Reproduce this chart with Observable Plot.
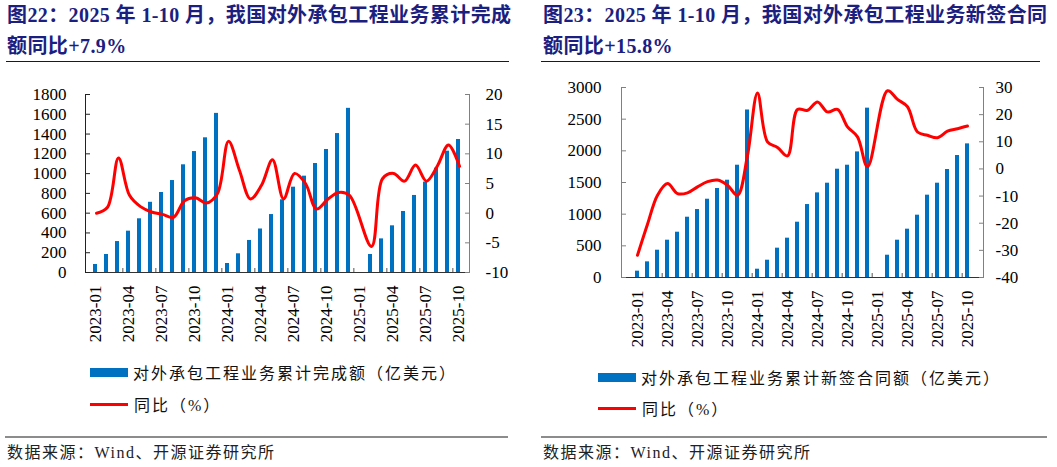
<!DOCTYPE html>
<html>
<head>
<meta charset="utf-8">
<script src="https://cdn.jsdelivr.net/npm/d3@7"></script>
<script src="https://cdn.jsdelivr.net/npm/@observablehq/plot@0.6"></script>
<style>
  body { margin: 0; background: #fff; }
  #page { position: relative; width: 1057px; height: 467px; overflow: hidden; background: #fff;
          font-family: "Liberation Serif", "Noto Sans CJK SC", serif; }
  .title { position: absolute; font-weight: bold; color: #1b2080; font-size: 20px; line-height: 31px; letter-spacing: 0.4px; white-space: nowrap; }
  .rule-top { position: absolute; height: 0; border-top: 1.5px solid #1a1a1a; }
  .rule-bottom { position: absolute; height: 0; border-top: 2px solid #8c8c8c; }
  .source { position: absolute; font-size: 16px; line-height: 20px; letter-spacing: 1.5px; color: #222; white-space: nowrap; }
  .legend { position: absolute; display: flex; align-items: center; height: 20px; font-size: 16px; letter-spacing: 2px; color: #111; white-space: nowrap; }
  .swatch-bar { width: 38px; height: 9px; background: #0070c0; margin-right: 5px; }
  .swatch-line { width: 38px; height: 3px; background: #ff0000; margin-right: 6px; }
  .plot { position: absolute; }
</style>
</head>
<body>
<div id="page"></div>
<script>
// Months 2023-01 … 2025-10 (January 2025 is not published separately)
const months = [
  "2023-01","2023-02","2023-03","2023-04","2023-05","2023-06","2023-07","2023-08","2023-09","2023-10","2023-11","2023-12",
  "2024-01","2024-02","2024-03","2024-04","2024-05","2024-06","2024-07","2024-08","2024-09","2024-10","2024-11","2024-12",
  "2025-01","2025-02","2025-03","2025-04","2025-05","2025-06","2025-07","2025-08","2025-09","2025-10"
];
const labelMonths = months.filter((m, i) => i % 3 === 0);

// 对外承包工程业务累计完成额（亿美元）and 同比（%）
const completedValue = [
  81, 182, 313, 418, 543, 710, 809, 930, 1089, 1223, 1362, 1609,
  91, 189, 324, 440, 586, 735, 863, 974, 1102, 1244, 1405, 1660,
  null, 182, 340, 472, 617, 779, 914, 1055, 1227, 1345
];
const completedYoy = [
  0.0, 1.0, 9.3, 3.0, 1.1, 0.2, -0.2, -0.7, 2.1, 2.6, 1.7, 3.3,
  12.1, 7.2, 2.4, 4.7, 9.0, 2.4, 6.7, 5.0, 0.7, 2.3, 3.5, 3.0,
  null, -5.6, 5.8, 6.7, 5.4, 8.1, 5.4, 8.0, 11.5, 7.9
];

// 对外承包工程业务累计新签合同额（亿美元）and 同比（%）
const signedValue = [
  100, 247, 431, 589, 715, 952, 1073, 1236, 1405, 1536, 1773, 2645,
  131, 273, 463, 621, 873, 1152, 1336, 1489, 1710, 1773, 1983, 2674,
  null, 352, 589, 763, 984, 1300, 1489, 1705, 1926, 2110
];
const signedYoy = [
  -31.8, -20.4, -9.7, -5.4, -9.1, -8.8, -6.6, -4.7, -4.1, -6.0, -9.7, 5.0,
  28.0, 10.0, 7.9, 4.8, 21.9, 21.6, 24.7, 21.0, 21.9, 15.5, 11.8, 0.8,
  null, 28.8, 25.6, 22.9, 13.6, 12.4, 11.5, 13.9, 14.8, 15.8
];

// Axis tick values
const completedTicks = [0, 200, 400, 600, 800, 1000, 1200, 1400, 1600, 1800];
const completedYoyTicks = [-10, -5, 0, 5, 10, 15, 20];
const signedTicks = [0, 500, 1000, 1500, 2000, 2500, 3000];
const signedYoyTicks = [-40, -30, -20, -10, 0, 10, 20, 30];

// Texts
const titles = [
  ["图22：2025 年 1-10 月，我国对外承包工程业务累计完成", "额同比+7.9%"],
  ["图23：2025 年 1-10 月，我国对外承包工程业务新签合同", "额同比+15.8%"]
];
const barNames = ["对外承包工程业务累计完成额（亿美元）", "对外承包工程业务累计新签合同额（亿美元）"];
const lineName = "同比（%）";
const sourceText = "数据来源：Wind、开源证券研究所";

const page = document.getElementById("page");
const fmt = d => String(d);

function el(cls, css, html) {
  const e = document.createElement("div");
  e.className = cls;
  Object.assign(e.style, css);
  if (html != null) e.innerHTML = html;
  page.appendChild(e);
  return e;
}

function panel(p) {
  const step = (p.width - p.marginLeft - p.marginRight) / months.length;
  const common = {
    width: p.width, height: p.height,
    marginLeft: p.marginLeft, marginRight: p.marginRight, marginTop: p.marginTop, marginBottom: p.marginBottom,
    style: {fontFamily: "Liberation Serif, serif", fontSize: "17px", color: "#000", background: "transparent", overflow: "visible"}
  };

  const bars = months.map((m, i) => ({month: m, value: p.values[i]})).filter(d => d.value != null);
  const line = months.map((m, i) => ({month: m, yoy: p.yoy[i]})).filter(d => d.yoy != null);

  // Bars with the left axis and the category axis
  const barSvg = Plot.plot({
    ...common,
    x: {type: "band", domain: months, paddingInner: 0.6, paddingOuter: 0.3},
    y: {domain: [p.yTicks[0], p.yTicks[p.yTicks.length - 1]]},
    marks: [
      Plot.barY(bars, {x: "month", y: "value", fill: "#0070c0"}),
      Plot.frame({anchor: "left", stroke: p.leftAxisColor}),
      Plot.frame({anchor: "bottom", stroke: "#333"}),
      Plot.axisY({ticks: p.yTicks, tickSize: 5, dx: 5, tickFormat: () => "", stroke: p.leftAxisColor, label: null}),
      Plot.axisY({ticks: p.yTicks, tickSize: 0, tickPadding: p.yPad, tickFormat: fmt, label: null}),
      Plot.axisX({ticks: labelMonths, tickSize: 0, tickRotate: -90, tickPadding: 13, label: null}),
      Plot.axisX({ticks: labelMonths.slice(1), tickSize: 4, dy: -4, dx: -step / 2, tickFormat: () => "", stroke: "#555", label: null})
    ]
  });

  // Year-on-year line with the right axis
  const lineSvg = Plot.plot({
    ...common,
    x: {type: "point", domain: months, padding: 0.5, axis: null},
    y: {domain: [p.y2Ticks[0], p.y2Ticks[p.y2Ticks.length - 1]]},
    marks: [
      Plot.frame({anchor: "right", stroke: "#808080"}),
      Plot.axisY({anchor: "right", ticks: p.y2Ticks, tickSize: 5, dx: -5, tickFormat: () => "", stroke: "#808080", label: null}),
      Plot.axisY({anchor: "right", ticks: p.y2Ticks, tickSize: 0, tickPadding: p.y2Pad, tickFormat: fmt, label: null}),
      Plot.line(line, {x: "month", y: "yoy", curve: "catmull-rom", stroke: "#ff0000", strokeWidth: 3})
    ]
  });

  for (const svg of [barSvg, lineSvg]) {
    const wrap = el("plot", {left: p.left + "px", top: p.top + "px"});
    wrap.appendChild(svg);
  }
}

// Titles and rules
el("title", {left: "7px", top: "0px"}, titles[0].join("<br>"));
el("title", {left: "543px", top: "0px"}, titles[1].join("<br>"));
el("rule-top", {left: "6px", top: "61px", width: "503px"});
el("rule-top", {left: "541px", top: "61px", width: "499px"});

panel({
  left: 0, top: 70, width: 528, height: 280,
  marginLeft: 85, marginRight: 59, marginTop: 24, marginBottom: 78,
  values: completedValue, yoy: completedYoy,
  yTicks: completedTicks, y2Ticks: completedYoyTicks,
  yPad: 19, y2Pad: 16, leftAxisColor: "#222"
});
panel({
  left: 530, top: 65, width: 527, height: 290,
  marginLeft: 91, marginRight: 74, marginTop: 22, marginBottom: 78,
  values: signedValue, yoy: signedYoy,
  yTicks: signedTicks, y2Ticks: signedYoyTicks,
  yPad: 20, y2Pad: 12, leftAxisColor: "#808080"
});

// Legends
el("legend", {left: "90px", top: "362px"}, `<div class="swatch-bar"></div><span>${barNames[0]}</span>`);
el("legend", {left: "90px", top: "394px"}, `<div class="swatch-line"></div><span>${lineName}</span>`);
el("legend", {left: "598px", top: "367px"}, `<div class="swatch-bar"></div><span>${barNames[1]}</span>`);
el("legend", {left: "598px", top: "398px"}, `<div class="swatch-line"></div><span>${lineName}</span>`);

// Footer
el("rule-bottom", {left: "5px", top: "436px", width: "503px"});
el("rule-bottom", {left: "541px", top: "436px", width: "506px"});
el("source", {left: "7px", top: "443px"}, sourceText);
el("source", {left: "543px", top: "443px"}, sourceText);
</script>
</body>
</html>
